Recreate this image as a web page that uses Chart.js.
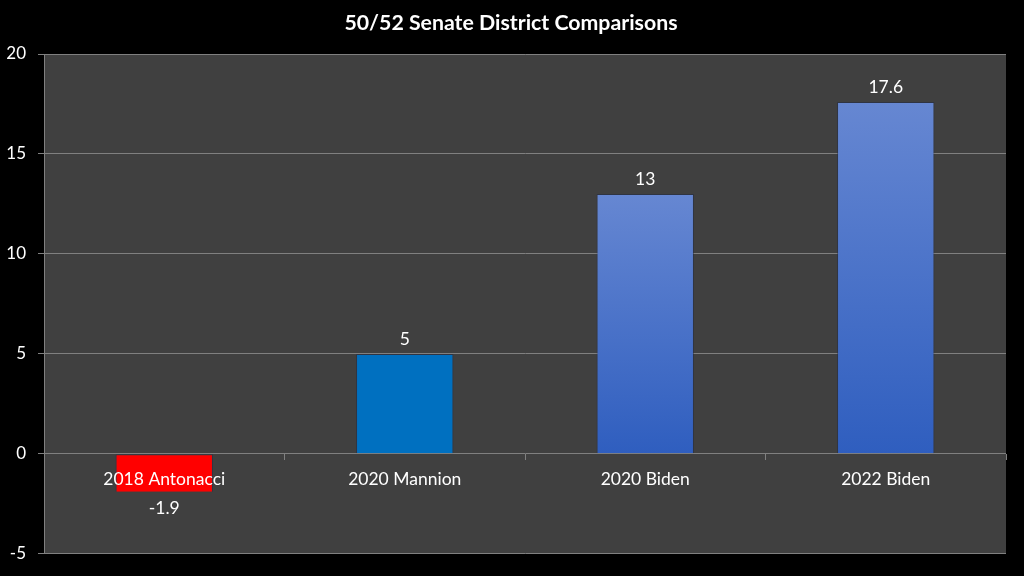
<!DOCTYPE html>
<html>
<head>
<meta charset="utf-8">
<script src="https://cdn.jsdelivr.net/npm/chart.js@4.4.0/dist/chart.umd.min.js"></script>
<style>
  html, body { margin: 0; padding: 0; background: #000; }
  #wrap { width: 1024px; height: 576px; position: relative; }
</style>
</head>
<body>
<div id="wrap"><canvas id="c" width="1024" height="576"></canvas></div>
<script>
const chartTitle = "50/52 Senate District Comparisons";
const categories = ["2018 Antonacci", "2020 Mannion", "2020 Biden", "2022 Biden"];
const values = [-1.9, 5, 13, 17.6];
const valueLabels = ["-1.9", "5", "13", "17.6"];
const yTicks = [-5, 0, 5, 10, 15, 20];

const FONT = "Lato, 'Open Sans', 'DejaVu Sans', sans-serif";

function barColor(ctx) {
  const i = ctx.dataIndex;
  if (i === 0) return '#ff0000';
  if (i === 1) return '#0070c0';
  const chart = ctx.chart;
  const y = chart.scales.y;
  if (!y || !chart.chartArea) return '#4472c4';
  const top = y.getPixelForValue(values[i]);
  const bottom = y.getPixelForValue(0);
  const g = chart.ctx.createLinearGradient(0, top, 0, bottom);
  g.addColorStop(0, '#6687d2');
  g.addColorStop(1, '#2f5ebf');
  return g;
}

const plotBg = {
  id: 'plotBg',
  beforeDraw(chart) {
    const { ctx, chartArea: a } = chart;
    ctx.save();
    ctx.fillStyle = '#000';
    ctx.fillRect(0, 0, chart.width, chart.height);
    ctx.fillStyle = '#404040';
    ctx.fillRect(a.left, a.top, a.right - a.left, a.bottom - a.top);
    ctx.restore();
  }
};

const valueLabelPlugin = {
  id: 'valueLabels',
  afterDatasetsDraw(chart) {
    const { ctx } = chart;
    const meta = chart.getDatasetMeta(0);
    ctx.save();
    ctx.fillStyle = '#ffffff';
    ctx.font = "17.5px " + FONT;
    ctx.textAlign = 'center';
    ctx.textBaseline = 'middle';
    meta.data.forEach((bar, i) => {
      const v = values[i];
      const y = v >= 0 ? bar.y - 15 : bar.y + 17;
      ctx.fillText(valueLabels[i], bar.x, y);
    });
    ctx.restore();
  }
};

const titlePlugin = {
  id: 'customTitle',
  afterDraw(chart) {
    const { ctx } = chart;
    ctx.save();
    ctx.fillStyle = '#ffffff';
    ctx.font = "bold 21.3px " + FONT;
    ctx.textAlign = 'center';
    ctx.textBaseline = 'middle';
    ctx.fillText(chartTitle, 511, 23);
    ctx.restore();
  }
};

new Chart(document.getElementById('c'), {
  type: 'bar',
  data: {
    labels: categories,
    datasets: [{
      data: values,
      backgroundColor: barColor,
      borderColor: 'rgba(30,40,70,0.5)',
      borderWidth: { top: 1, left: 1, right: 1, bottom: 0 },
      borderSkipped: false,
      categoryPercentage: 0.405,
      barPercentage: 1.0
    }]
  },
  options: {
    responsive: false,
    animation: false,
    devicePixelRatio: 1,
    layout: { padding: { left: 0, top: 54, right: 18, bottom: 22 } },
    plugins: {
      legend: { display: false },
      title: { display: false },
      tooltip: { enabled: false }
    },
    scales: {
      x: {
        position: { y: 0 },
        offset: true,
        afterFit(s) { s.height = 0; },
        grid: {
          offset: true,
          drawOnChartArea: false,
          drawTicks: true,
          tickLength: 6,
          color: '#808080'
        },
        border: { display: false },
        ticks: {
          z: 1,
          color: '#ffffff',
          font: { size: 17.5, family: FONT },
          padding: 9,
          maxRotation: 0
        }
      },
      y: {
        min: -5,
        max: 20,
        afterFit(s) { s.width = 44; },
        afterBuildTicks(s) { s.ticks = yTicks.map(v => ({ value: v })); },
        grid: {
          color: '#808080',
          lineWidth: 1,
          drawTicks: true,
          tickLength: 6
        },
        border: { display: true, color: '#808080' },
        ticks: {
          color: '#ffffff',
          font: { size: 17, family: FONT },
          padding: 12
        }
      }
    }
  },
  plugins: [plotBg, valueLabelPlugin, titlePlugin]
});
</script>
</body>
</html>
